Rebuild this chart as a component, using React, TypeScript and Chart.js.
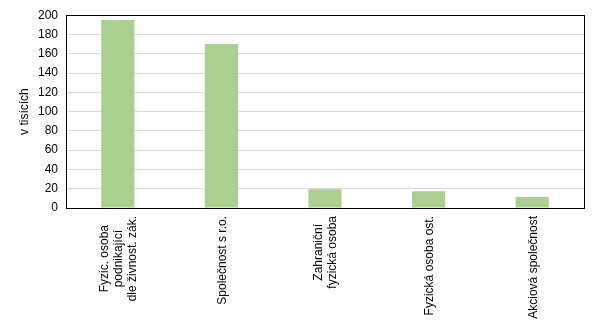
import React, { useEffect, useRef } from "react";
import { Chart, registerables } from "chart.js";

Chart.register(...registerables);

const categories: string[][] = [
  ["Fyzic. osoba", "podnikající", "dle živnost. zák."],
  ["Společnost s r.o."],
  ["Zahraniční", "fyzická osoba"],
  ["Fyzická osoba ost."],
  ["Akciová společnost"],
];
const values: number[] = [195, 170, 19.4, 17.5, 11.5];
const yTicksMin = 0;
const yTicksMax = 200;
const yTicksStep = 20;
const yTitle = "v tisících";

const FONT = "'Liberation Sans', Arial, sans-serif";

const framePlugin = {
  id: "frameAndLabels",
  afterDraw(chart: any) {
    const { ctx, chartArea } = chart;
    const xScale = chart.scales.x;
    ctx.save();
    ctx.strokeStyle = "#000000";
    ctx.lineWidth = 1;
    ctx.strokeRect(
      Math.round(chartArea.left) + 0.5,
      Math.round(chartArea.top) + 0.5,
      Math.round(chartArea.right - chartArea.left),
      Math.round(chartArea.bottom - chartArea.top)
    );
    ctx.font = `12px ${FONT}`;
    ctx.fillStyle = "#000000";
    ctx.textAlign = "center";
    ctx.textBaseline = "middle";
    const lineH = 14;
    const y0 = chartArea.bottom + 8;
    categories.forEach((lines, i) => {
      const x = xScale.getPixelForValue(i);
      const maxW = Math.max(...lines.map((l) => ctx.measureText(l).width));
      ctx.save();
      ctx.translate(x, y0);
      ctx.rotate(-Math.PI / 2);
      const n = lines.length;
      lines.forEach((l, j) => {
        ctx.fillText(l, -maxW / 2, (j - (n - 1) / 2) * lineH + 1);
      });
      ctx.restore();
    });
    ctx.restore();
  },
};

export default function App() {
  const ref = useRef<HTMLCanvasElement>(null);
  useEffect(() => {
    if (!ref.current) return;
    const chart = new Chart(ref.current, {
      type: "bar",
      data: {
        labels: categories.map((c) => c.join(" ")),
        datasets: [
          {
            data: values,
            backgroundColor: "#a9d08e",
            borderWidth: 0,
            barPercentage: 0.32,
            categoryPercentage: 1,
          },
        ],
      },
      options: {
        animation: false,
        responsive: false,
        maintainAspectRatio: false,
        layout: { padding: { top: 14, right: 15, left: 0, bottom: 0 } },
        plugins: {
          legend: { display: false },
          tooltip: { enabled: false },
          title: { display: false },
        },
        scales: {
          x: {
            afterFit: (s: any) => {
              s.height = 114;
            },
            ticks: { display: false },
            grid: { display: false, drawTicks: false },
            border: { display: false },
          },
          y: {
            min: yTicksMin,
            max: yTicksMax,
            afterFit: (s: any) => {
              s.width = 66;
            },
            ticks: {
              stepSize: yTicksStep,
              color: "#000000",
              padding: 8,
              font: { size: 12, family: FONT },
            },
            grid: { color: "#d9d9d9", lineWidth: 1, drawTicks: false },
            border: { display: false },
            title: {
              display: true,
              text: yTitle,
              color: "#000000",
              font: { size: 12, family: FONT },
              padding: { top: 17, bottom: 0 },
            },
          },
        },
      },
      plugins: [framePlugin],
    });
    return () => chart.destroy();
  }, []);
  return (
    <div style={{ position: "fixed", left: 0, top: 0, width: 599, height: 322, background: "#ffffff" }}>
      <canvas ref={ref} width={599} height={322} style={{ width: 599, height: 322 }} />
    </div>
  );
}
